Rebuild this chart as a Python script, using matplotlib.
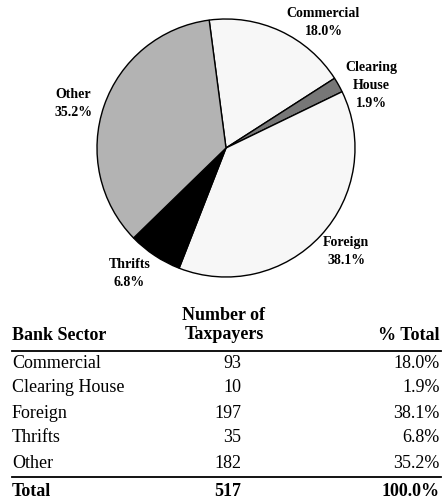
import numpy as np
import matplotlib
matplotlib.use("Agg")
import matplotlib.pyplot as plt

plt.rcParams['font.family'] = ['Liberation Serif', 'DejaVu Serif']

# data
sectors = ['Commercial', 'Clearing House', 'Foreign', 'Thrifts', 'Other']
pie_labels = ['Commercial', 'Clearing\nHouse', 'Foreign', 'Thrifts', 'Other']
taxpayers = [93, 10, 197, 35, 182]
pct_total = [18.0, 1.9, 38.1, 6.8, 35.2]
colors = ['#f7f7f7', '#777777', '#f7f7f7', '#000000', '#b3b3b3']

W, H = 443, 504
fig = plt.figure(figsize=(W / 100, H / 100), dpi=100)
ax = fig.add_axes([0, 0, 1, 1])

# pie, in pixel units (y measured from bottom)
cx, cy, r = 226, H - 148, 129
wedges, _ = ax.pie(pct_total, colors=colors, startangle=97.5, counterclock=False,
                   center=(cx, cy), radius=r,
                   wedgeprops=dict(edgecolor='black', linewidth=1.0))

# labels around the pie, nudged a bit from the wedge middle
nudge = [-13, -6, 2, -4, 3]
for w, lab, p, dn in zip(wedges, pie_labels, pct_total, nudge):
    ang = np.deg2rad((w.theta1 + w.theta2) / 2 + dn)
    d = 1.23 * r
    ax.text(cx + d * np.cos(ang), cy + d * np.sin(ang), f'{lab}\n{p:.1f}%',
            ha='center', va='center', fontsize=10, fontweight='bold',
            linespacing=1.5)

# table
fs = 13
x_left, x_num, x_pct = 12, 241, 440
ax.text(x_left, H - 336, 'Bank Sector', ha='left', va='center', fontsize=fs, fontweight='bold')
ax.text(224, H - 325, 'Number of\nTaxpayers', ha='center', va='center', fontsize=fs,
        fontweight='bold', linespacing=1.22)
ax.text(x_pct, H - 336, '% Total', ha='right', va='center', fontsize=fs, fontweight='bold')
ax.plot([x_left, x_pct + 1], [H - 351, H - 351], color='black', lw=1.3)

for i, (s, n, p) in enumerate(zip(sectors, taxpayers, pct_total)):
    y = H - (363 + 25 * i)
    ax.text(x_left, y, s, ha='left', va='center', fontsize=fs)
    ax.text(x_num, y, str(n), ha='right', va='center', fontsize=fs)
    ax.text(x_pct, y, f'{p:.1f}%', ha='right', va='center', fontsize=fs)

ax.plot([x_left, x_pct + 1], [H - 477, H - 477], color='black', lw=1.3)
y = H - 492
ax.text(x_left, y, 'Total', ha='left', va='center', fontsize=fs, fontweight='bold')
ax.text(x_num, y, str(sum(taxpayers)), ha='right', va='center', fontsize=fs, fontweight='bold')
ax.text(x_pct, y, f'{sum(pct_total):.1f}%', ha='right', va='center', fontsize=fs, fontweight='bold')

ax.set_xlim(0, W)
ax.set_ylim(0, H)
ax.set_aspect('auto')
ax.axis('off')

fig.savefig('out.png', dpi=100)
